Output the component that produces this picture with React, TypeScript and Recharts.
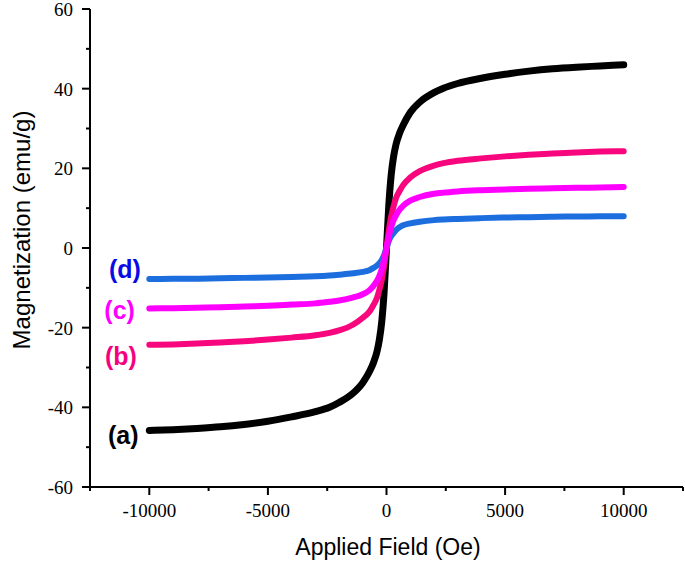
import { LineChart, Line, XAxis, YAxis, ReferenceDot, Label } from "recharts";

// applied field (Oe) where each curve was read
const FIELD = [
  -10000, -9000, -8000, -7000, -6000, -5000, -4000, -3000, -2400, -2000, -1400,
  -1000, -700, -550, -400, -300, -200, -100, 0, 100, 200, 300, 400, 550, 700,
  1000, 1400, 2000, 2400, 3000, 4000, 5000, 6000, 7000, 8000, 9000, 10000,
];

// magnetization (emu/g)
const SAMPLE_A = [
  -45.8, -45.6, -45.3, -44.9, -44.3, -43.5, -42.4, -41.1, -40, -38.8, -36.4,
  -33.8, -30.8, -28.8, -26, -23, -18.5, -11, 0, 11, 18.5, 23, 26, 28.8, 30.8,
  34, 36.6, 39, 40.1, 41.3, 42.6, 43.6, 44.4, 45, 45.4, 45.7, 46,
];
const SAMPLE_B = [
  -24.3, -24.2, -24, -23.7, -23.4, -23, -22.5, -21.9, -21.3, -20.7, -19.2,
  -17.5, -15.8, -14.3, -12.5, -10.5, -8, -4.5, 0, 4.5, 8, 10.5, 12.5, 14.3,
  15.8, 17.7, 19.3, 20.7, 21.3, 21.9, 22.5, 23, 23.4, 23.7, 24, 24.2, 24.3,
];
const SAMPLE_C = [
  -15.2, -15.1, -15, -14.9, -14.7, -14.5, -14.2, -13.9, -13.5, -13.2, -12.4,
  -11.6, -10.5, -9.5, -8.2, -7, -5.3, -3, 0, 3, 5.3, 7, 8.2, 9.6, 10.6, 11.9,
  12.8, 13.6, 13.9, 14.2, 14.5, 14.7, 14.9, 15, 15.1, 15.2, 15.3,
];
const SAMPLE_D = [
  -7.8, -7.75, -7.7, -7.6, -7.5, -7.4, -7.25, -7.1, -6.9, -6.7, -6.35, -6,
  -5.5, -5, -4.4, -3.8, -3, -1.8, 0, 1.8, 3, 3.8, 4.5, 5.2, 5.7, 6.2, 6.6, 7,
  7.15, 7.3, 7.5, 7.65, 7.75, 7.85, 7.9, 7.95, 8,
];

const X_TICKS = [
  -12500, -10000, -7500, -5000, -2500, 0, 2500, 5000, 7500, 10000, 12500,
];
const Y_TICKS = [-60, -50, -40, -30, -20, -10, 0, 10, 20, 30, 40, 50, 60];

// curve tags: text, where it sits (field, magnetization), colour
const TAGS = [
  { text: "(a)", x: -11100, y: -47.4, color: "#000000" },
  { text: "(b)", x: -11200, y: -27.5, color: "#F5007F" },
  { text: "(c)", x: -11250, y: -16, color: "#FF00FF" },
  { text: "(d)", x: -11030, y: -5.6, color: "#0A0AE6" },
];

const chartData = FIELD.map((h, i) => ({
  h,
  a: SAMPLE_A[i],
  b: SAMPLE_B[i],
  c: SAMPLE_C[i],
  d: SAMPLE_D[i],
}));

const TICK_FONT = "'Times New Roman', 'Liberation Serif', 'DejaVu Serif', serif";
const LABEL_FONT = "Arial, 'Liberation Sans', sans-serif";

const XTick = (props: any) => {
  const { x, y, payload } = props;
  const major = payload.value % 5000 === 0;
  return (
    <g>
      <line x1={x} x2={x} y1={y} y2={y + (major ? 8 : 4)} stroke="#000" strokeWidth={2} />
      {major && (
        <text x={x} y={y + 30} textAnchor="middle" fill="#000" fontFamily={TICK_FONT} fontSize={19}>
          {payload.value}
        </text>
      )}
    </g>
  );
};

const YTick = (props: any) => {
  const { x, y, payload } = props;
  const major = payload.value % 20 === 0;
  return (
    <g>
      <line x1={x - (major ? 8 : 4)} x2={x} y1={y} y2={y} stroke="#000" strokeWidth={2} />
      {major && (
        <text x={x - 17} y={y + 7} textAnchor="end" fill="#000" fontFamily={TICK_FONT} fontSize={19}>
          {payload.value}
        </text>
      )}
    </g>
  );
};

export default function App() {
  return (
    <div style={{ position: "absolute", left: 0, top: 0, background: "#fff" }}>
      <LineChart
        width={685}
        height={563}
        data={chartData}
        margin={{ top: 9, right: 2, left: 0, bottom: 0 }}
      >
        <XAxis
          dataKey="h"
          type="number"
          domain={[-12500, 12500]}
          ticks={X_TICKS}
          tick={<XTick />}
          tickSize={0}
          tickMargin={0}
          tickLine={false}
          axisLine={{ stroke: "#000", strokeWidth: 2 }}
          height={76}
          interval={0}
        >
          <Label
            content={() => (
              <text x={388} y={555} textAnchor="middle" fill="#000" fontFamily={LABEL_FONT} fontSize={23}>
                Applied Field (Oe)
              </text>
            )}
          />
        </XAxis>
        <YAxis
          type="number"
          domain={[-60, 60]}
          ticks={Y_TICKS}
          tick={<YTick />}
          tickSize={0}
          tickMargin={0}
          tickLine={false}
          axisLine={{ stroke: "#000", strokeWidth: 2 }}
          width={90}
          interval={0}
        >
          <Label
            content={() => (
              <text
                x={0}
                y={0}
                transform="translate(30,230) rotate(-90)"
                textAnchor="middle"
                fill="#000"
                fontFamily={LABEL_FONT}
                fontSize={24}
              >
                Magnetization (emu/g)
              </text>
            )}
          />
        </YAxis>
        <Line type="monotone" dataKey="a" stroke="#000000" strokeWidth={7} strokeLinecap="round" dot={false} isAnimationActive={false} />
        <Line type="monotone" dataKey="d" stroke="#1C6EDE" strokeWidth={6} strokeLinecap="round" dot={false} isAnimationActive={false} />
        <Line type="monotone" dataKey="b" stroke="#F7067E" strokeWidth={6} strokeLinecap="round" dot={false} isAnimationActive={false} />
        <Line type="monotone" dataKey="c" stroke="#FF00FF" strokeWidth={6} strokeLinecap="round" dot={false} isAnimationActive={false} />
        {TAGS.map((t) => (
          <ReferenceDot
            key={t.text}
            x={t.x}
            y={t.y}
            r={0}
            shape={(p: any) => (
              <text
                x={p.cx}
                y={p.cy}
                dy="0.3em"
                textAnchor="middle"
                fill={t.color}
                fontFamily={LABEL_FONT}
                fontSize={25}
                fontWeight="bold"
              >
                {t.text}
              </text>
            )}
          />
        ))}
      </LineChart>
    </div>
  );
}
